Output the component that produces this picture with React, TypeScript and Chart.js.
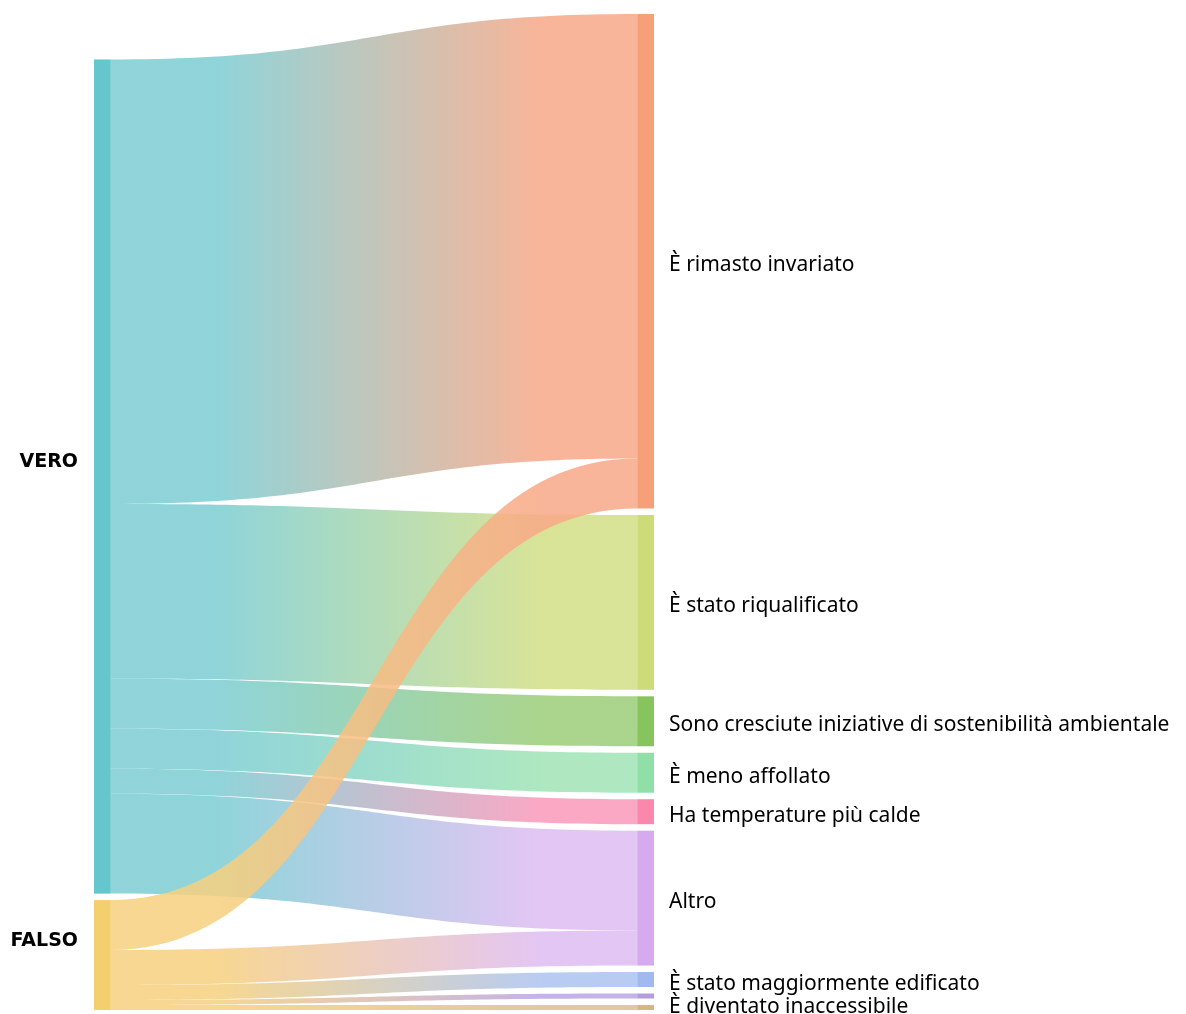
import React, { useEffect, useRef } from 'react';
import { Chart, registerables } from 'chart.js';

Chart.register(...registerables);

// ---- data ----
const sourceNodes = ['VERO', 'FALSO'];
const targetNodes = [
  'È rimasto invariato',
  'È stato riqualificato',
  'Sono cresciute iniziative di sostenibilità ambientale',
  'È meno affollato',
  'Ha temperature più calde',
  'Altro',
  'È stato maggiormente edificato',
  'È diventato inaccessibile',
  '',
];
// flow values from each source to each target (in target order)
const veroValues = [89, 35, 10, 8, 5, 20, 0, 0, 0];
const falsoValues = [10, 0, 0, 0, 0, 7, 3, 1, 1];

// ---- styles ----
const sourceNodeColors = ['#66c6cd', '#f3cf6d'];
const sourceFlowColors = ['#7ccdd3', '#f6d07e'];
const targetNodeColors = ['#f6a079', '#cddc78', '#88c45e', '#8fdfa7', '#fb87ad', '#d6aaef', '#a0baef', '#b39ce0', '#d6b77c'];
const targetFlowColors = ['#f8a887', '#d2df86', '#9bcd78', '#a0e4b6', '#fb99ba', '#dfbcf3', '#acc3f0', '#baa6e5', '#dbc08c'];

const NODE_GAP = 1.3; // gap between nodes in value units
const NODE_W = 0.03; // node width as fraction of x range
const LABEL_LINE = 23; // minimum spacing between right labels (px)
const LABEL_SHIFT = 4; // baseline tweak for right labels (px)

const flowMatrix = [veroValues, falsoValues];

function sum(a: number[]) {
  return a.reduce((s, v) => s + v, 0);
}

const sourceTotals = flowMatrix.map((r) => sum(r));
const targetTotals = targetNodes.map((_, j) => sum(flowMatrix.map((r) => r[j])));
const leftH = sum(sourceTotals) + NODE_GAP * (sourceTotals.length - 1);
const rightH = sum(targetTotals) + NODE_GAP * (targetTotals.length - 1);
const maxH = Math.max(leftH, rightH);

const sankeyPlugin = {
  id: 'sankeyDraw',
  afterDatasetsDraw(chart: any) {
    const { ctx } = chart;
    const xs = chart.scales.x;
    const ys = chart.scales.y;

    // layout nodes (bottom aligned columns)
    const srcTop: number[] = [];
    let c = maxH - leftH;
    sourceTotals.forEach((t) => {
      srcTop.push(c);
      c += t + NODE_GAP;
    });
    const tgtTop: number[] = [];
    c = maxH - rightH;
    targetTotals.forEach((t) => {
      tgtTop.push(c);
      c += t + NODE_GAP;
    });

    // flow segments
    const srcCursor = srcTop.slice();
    const tgtCursor = tgtTop.slice();
    const flows: any[] = [];
    flowMatrix.forEach((row, i) => {
      row.forEach((v, j) => {
        if (v > 0) {
          flows.push({ i, j, s0: srcCursor[i], s1: srcCursor[i] + v });
          srcCursor[i] += v;
        }
      });
    });
    targetNodes.forEach((_, j) => {
      flowMatrix.forEach((row, i) => {
        const f = flows.find((fl) => fl.i === i && fl.j === j);
        if (f) {
          f.t0 = tgtCursor[j];
          f.t1 = tgtCursor[j] + row[j];
          tgtCursor[j] += row[j];
        }
      });
    });

    const sx = xs.getPixelForValue(NODE_W);
    const tx = xs.getPixelForValue(1 - NODE_W);
    const mx = (sx + tx) / 2;

    ctx.save();
    flows.forEach((f) => {
      const a0 = ys.getPixelForValue(f.s0);
      const a1 = ys.getPixelForValue(f.s1);
      const b0 = ys.getPixelForValue(f.t0);
      const b1 = ys.getPixelForValue(f.t1);
      const g = ctx.createLinearGradient(sx, 0, tx, 0);
      g.addColorStop(0, sourceFlowColors[f.i]);
      g.addColorStop(0.2, sourceFlowColors[f.i]);
      g.addColorStop(0.82, targetFlowColors[f.j]);
      g.addColorStop(1, targetFlowColors[f.j]);
      ctx.globalAlpha = 0.85;
      ctx.fillStyle = g;
      ctx.beginPath();
      ctx.moveTo(sx, a0);
      ctx.bezierCurveTo(mx, a0, mx, b0, tx, b0);
      ctx.lineTo(tx, b1);
      ctx.bezierCurveTo(mx, b1, mx, a1, sx, a1);
      ctx.closePath();
      ctx.fill();
    });
    ctx.globalAlpha = 1;

    // nodes
    const lx0 = xs.getPixelForValue(0);
    const rx1 = xs.getPixelForValue(1);
    sourceTotals.forEach((t, i) => {
      const y0 = ys.getPixelForValue(srcTop[i]);
      const y1 = ys.getPixelForValue(srcTop[i] + t);
      ctx.fillStyle = sourceNodeColors[i];
      ctx.fillRect(lx0, y0, sx - lx0, y1 - y0);
    });
    targetTotals.forEach((t, j) => {
      const y0 = ys.getPixelForValue(tgtTop[j]);
      const y1 = ys.getPixelForValue(tgtTop[j] + t);
      ctx.fillStyle = targetNodeColors[j];
      ctx.fillRect(tx, y0, rx1 - tx, y1 - y0);
    });

    // labels
    ctx.fillStyle = '#000';
    ctx.textBaseline = 'middle';
    ctx.font = 'bold 19px "DejaVu Sans"';
    ctx.textAlign = 'right';
    sourceNodes.forEach((name, i) => {
      const yc = ys.getPixelForValue(srcTop[i] + sourceTotals[i] / 2);
      ctx.fillText(name, lx0 - 16, yc - 14);
    });
    ctx.font = '21px "Noto Sans"';
    ctx.textAlign = 'left';
    let prevY = -Infinity;
    targetNodes.forEach((name, j) => {
      if (!name) return;
      let yc = ys.getPixelForValue(tgtTop[j] + targetTotals[j] / 2) + LABEL_SHIFT;
      if (yc < prevY + LABEL_LINE) yc = prevY + LABEL_LINE;
      prevY = yc;
      ctx.fillText(name, rx1 + 15, yc);
    });
    ctx.restore();
  },
};

export default function App() {
  const ref = useRef<HTMLCanvasElement | null>(null);
  useEffect(() => {
    if (!ref.current) return;
    const chart = new Chart(ref.current, {
      type: 'scatter',
      data: { datasets: [{ data: [] }] },
      options: {
        responsive: false,
        animation: false,
        layout: { padding: { left: 94, right: 532, top: 14, bottom: 4 } },
        scales: {
          x: { type: 'linear', min: 0, max: 1, display: false },
          y: { type: 'linear', min: 0, max: maxH, reverse: true, display: false },
        },
        plugins: { legend: { display: false }, tooltip: { enabled: false } },
      },
      plugins: [sankeyPlugin],
    });
    return () => chart.destroy();
  }, []);
  return (
    <div style={{ position: 'fixed', left: 0, top: 0, width: 1186, height: 1014, background: '#fff' }}>
      <canvas ref={ref} width={1186} height={1014} />
    </div>
  );
}
